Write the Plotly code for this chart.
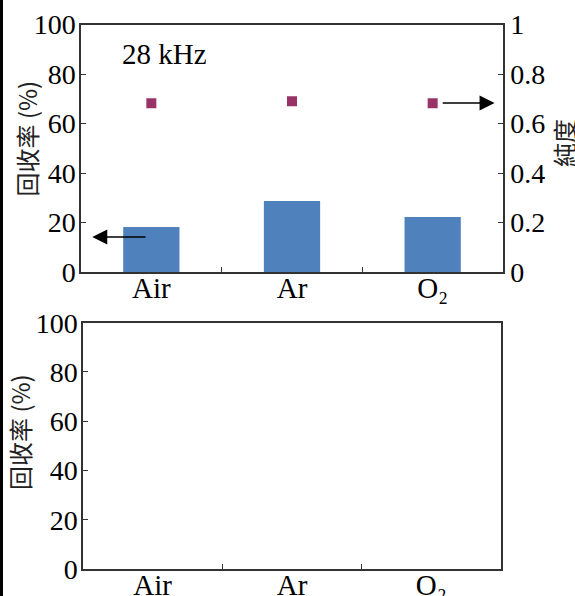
import plotly.graph_objects as go

W, H = 575, 596

# ---- data ----
categories = ["Air", "Ar", "O₂"]
recovery = [18.2, 28.7, 22.2]          # 回收率 (%)
purity = [0.682, 0.690, 0.682]         # 純度
y_left_ticks = [0, 20, 40, 60, 80, 100]
y_right_ticks = [0, 0.2, 0.4, 0.6, 0.8, 1]
y_right_text = ["0", "0.2", "0.4", "0.6", "0.8", "1"]
freq_label = "28 kHz"
left_title = "回收率 (%)"
right_title = "純度"

# arrow annotations (data units)
left_arrow = dict(tip=(-0.42, 14.1), tail=(-0.02, 14.1))
right_arrow = dict(tip=(2.44, 0.683), tail=(2.05, 0.683))

SERIF = "Liberation Serif, Times New Roman, serif"
CJK = "Noto Sans CJK SC, Noto Sans CJK JP, sans-serif"
LINE = "#333333"
BAR = "#4F81BD"
MARK = "#993366"


def px(x):
    return x / W


def py(y):
    return 1 - y / H


fig = go.Figure()

fig.add_trace(go.Bar(x=categories, y=recovery, marker=dict(color=BAR, line=dict(width=0)),
                     width=0.4, xaxis="x", yaxis="y", showlegend=False))
fig.add_trace(go.Scatter(x=categories, y=purity, mode="markers",
                         marker=dict(symbol="square", size=10, color=MARK),
                         xaxis="x", yaxis="y2", showlegend=False))
# empty lower panel: register categories only
fig.add_trace(go.Scatter(x=categories, y=[None, None, None], mode="markers",
                         xaxis="x2", yaxis="y3", showlegend=False, hoverinfo="skip"))

xaxis_common = dict(
    type="category", categoryorder="array", categoryarray=categories,
    range=[-0.5, 2.5], tickson="boundaries", ticks="inside", ticklen=5,
    tickcolor=LINE, showline=True, linecolor=LINE, linewidth=1.5, mirror=True,
    showgrid=False, zeroline=False, automargin=False, ticklabelstandoff=-11,
    tickfont=dict(family=SERIF, size=29, color="black"),
)
yaxis_common = dict(
    range=[0, 100], tickvals=y_left_ticks, ticks="inside", ticklen=5,
    tickcolor=LINE, showline=True, linecolor=LINE, linewidth=1.5, mirror=True,
    showgrid=False, zeroline=False, automargin=False, ticklabelstandoff=-2,
    tickfont=dict(family=SERIF, size=28, color="black"),
)

fig.update_layout(
    width=W, height=H,
    margin=dict(l=0, r=0, t=0, b=0, pad=0),
    paper_bgcolor="white", plot_bgcolor="white",
    template="none",
    showlegend=False,
    xaxis=dict(domain=[px(81), px(503)], anchor="y", **xaxis_common),
    yaxis=dict(domain=[py(272), py(24.5)], anchor="x", **yaxis_common),
    yaxis2=dict(overlaying="y", side="right", anchor="x", range=[0, 1],
                tickvals=y_right_ticks, ticktext=y_right_text, ticks="inside", ticklen=5,
                tickcolor=LINE, showline=True, linecolor=LINE, linewidth=1.5,
                showgrid=False, zeroline=False, automargin=False,
                tickfont=dict(family=SERIF, size=28, color="black")),
    xaxis2=dict(domain=[px(83), px(501)], anchor="y3", **xaxis_common),
    yaxis3=dict(domain=[py(569), py(322.7)], anchor="x2", **yaxis_common),
)

annotations = [
    dict(text=freq_label, xref="paper", yref="paper", x=px(164), y=py(54),
         showarrow=False, font=dict(family=SERIF, size=29, color="black"),
         xanchor="center", yanchor="middle"),
    dict(text=left_title, xref="paper", yref="paper", x=px(26.5), y=py(139),
         showarrow=False, textangle=-90, font=dict(family=CJK, size=24, color="#222"),
         xanchor="center", yanchor="middle"),
    dict(text=left_title, xref="paper", yref="paper", x=px(19), y=py(432),
         showarrow=False, textangle=-90, font=dict(family=CJK, size=24, color="#222"),
         xanchor="center", yanchor="middle"),
    dict(text=right_title, xref="paper", yref="paper", x=px(564), y=py(143),
         showarrow=False, textangle=-90, font=dict(family=CJK, size=24, color="#222"),
         xanchor="center", yanchor="middle"),
    dict(x=left_arrow["tip"][0], y=left_arrow["tip"][1], xref="x", yref="y",
         ax=left_arrow["tail"][0], ay=left_arrow["tail"][1], axref="x", ayref="y",
         showarrow=True, arrowhead=2, arrowsize=2, arrowwidth=1.5, arrowcolor="black",
         text=" ", standoff=0, startstandoff=0),
    dict(x=right_arrow["tip"][0], y=right_arrow["tip"][1], xref="x", yref="y2",
         ax=right_arrow["tail"][0], ay=right_arrow["tail"][1], axref="x", ayref="y2",
         showarrow=True, arrowhead=2, arrowsize=2, arrowwidth=1.5, arrowcolor="black",
         text=" ", standoff=0, startstandoff=0),
]
fig.update_layout(annotations=annotations)

# black border strip at the left edge of the image
fig.add_shape(type="rect", xref="paper", yref="paper", x0=0, x1=px(3), y0=0, y1=1,
              fillcolor="black", line=dict(width=0), layer="above")

fig.write_html(
    "out.html",
    config={"displayModeBar": False},
    post_script="document.body.style.margin='0';document.body.style.overflow='hidden';",
)
